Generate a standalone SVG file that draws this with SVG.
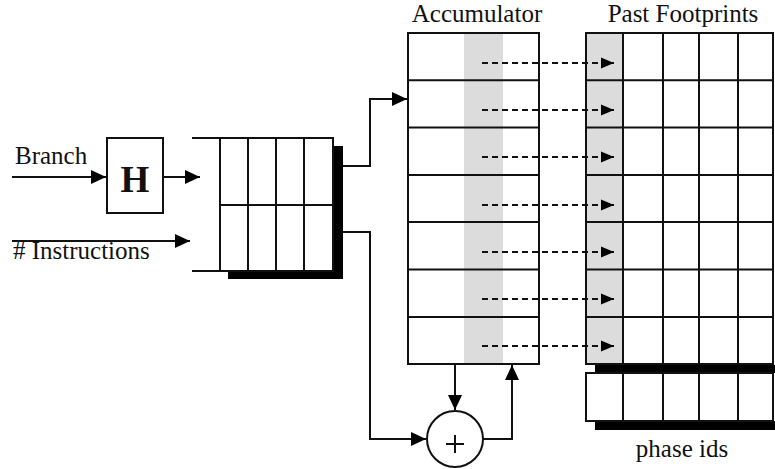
<svg xmlns="http://www.w3.org/2000/svg" width="775" height="469" viewBox="0 0 775 469">
<style>
.t{font-family:"Liberation Serif","Times New Roman",serif;font-size:25px;fill:#111}
.ln{stroke:#111;stroke-width:2;fill:none}
.cell{stroke:#111;stroke-width:2;fill:#fff}
.gray{fill:#dcdcdc}
.blk{fill:#000}
.dash{stroke:#111;stroke-width:2;fill:none;stroke-dasharray:6 4}
</style>
<defs>
<marker id="ah" markerUnits="userSpaceOnUse" markerWidth="16" markerHeight="16" refX="15" refY="8" orient="auto">
<path d="M0,1 L15,8 L0,15 Z" fill="#000"/>
</marker>
<marker id="ahs" markerUnits="userSpaceOnUse" markerWidth="13" markerHeight="13" refX="13" refY="6.5" orient="auto">
<path d="M0,1 L13,6.5 L0,12 Z" fill="#000"/>
</marker>
</defs>
<rect width="775" height="469" fill="#fff"/>

<g id="branch-label"><text class="t" x="15" y="164">Branch</text></g>
<g id="instr-label"><text class="t" x="13" y="259"># Instructions</text></g>

<g id="hash-box">
<rect class="cell" x="107" y="138" width="56" height="75"/>
<text x="135" y="192" text-anchor="middle" style="font-family:'Liberation Serif','Times New Roman',serif;font-size:37px;font-weight:bold;fill:#111">H</text>
</g>

<g id="shift-register">
<rect class="blk" x="333" y="146" width="10" height="133"/>
<rect class="blk" x="228" y="271" width="115" height="8"/>
<rect x="220" y="138" width="113" height="133" fill="#fff"/>
<path class="ln" d="M192,138 H333 V271 H192 M220,138 V271 M248,138 V271 M276,138 V271 M304,138 V271 M220,205 H333"/>
</g>

<g id="accumulator">
<text class="t" x="477" y="22" text-anchor="middle">Accumulator</text>
<rect x="408" y="33" width="131" height="331" fill="#fff"/>
<rect class="gray" x="464" y="34" width="39" height="329"/>
<path class="ln" d="M408,33 H539 V364 H408 Z M408,80.3 H539 M408,127.6 H539 M408,175 H539 M408,222 H539 M408,269.5 H539 M408,317 H539"/>
</g>

<g id="past-footprints">
<text class="t" x="683" y="22" text-anchor="middle">Past Footprints</text>
<rect x="586" y="33" width="187" height="331" fill="#fff"/>
<rect class="gray" x="587" y="34" width="36" height="329"/>
<path class="ln" d="M586,33 H773 V364 H586 Z M623,33 V364 M663,33 V364 M699,33 V364 M738,33 V364 M586,80.3 H773 M586,127.6 H773 M586,175 H773 M586,222 H773 M586,269.5 H773 M586,317 H773"/>
</g>

<g id="phase-ids">
<rect class="blk" x="595" y="365" width="180" height="8"/>
<rect class="blk" x="595" y="421" width="180" height="9"/>
<rect x="586" y="373" width="187" height="48" fill="#fff"/>
<path class="ln" d="M586,373 H773 V421 H586 Z M623,373 V421 M663,373 V421 M699,373 V421 M738,373 V421"/>
<text class="t" x="682" y="457" text-anchor="middle">phase ids</text>
</g>

<g id="adder">
<circle cx="455" cy="439" r="28" fill="#fff" stroke="#111" stroke-width="2"/>
<path class="ln" d="M446,444 H464 M455,435 V453"/>
</g>

<g id="connectors">
<path class="ln" d="M12,177 H106" marker-end="url(#ah)"/>
<path class="ln" d="M163,177 H200" marker-end="url(#ah)"/>
<path class="ln" d="M12,241 H190" marker-end="url(#ah)"/>
<path class="ln" d="M343,166 H370 V99 H407" marker-end="url(#ah)"/>
<path class="ln" d="M343,232 H370 V439 H426" marker-end="url(#ah)"/>
<path class="ln" d="M455,364 V410" marker-end="url(#ah)"/>
<path class="ln" d="M483,439 H512 V365" marker-end="url(#ah)"/>
<path class="dash" d="M482,63 H614" marker-end="url(#ahs)"/>
<path class="dash" d="M482,110 H614" marker-end="url(#ahs)"/>
<path class="dash" d="M482,157 H614" marker-end="url(#ahs)"/>
<path class="dash" d="M482,205 H614" marker-end="url(#ahs)"/>
<path class="dash" d="M482,252 H614" marker-end="url(#ahs)"/>
<path class="dash" d="M482,299 H614" marker-end="url(#ahs)"/>
<path class="dash" d="M482,346 H614" marker-end="url(#ahs)"/>
</g>
</svg>
